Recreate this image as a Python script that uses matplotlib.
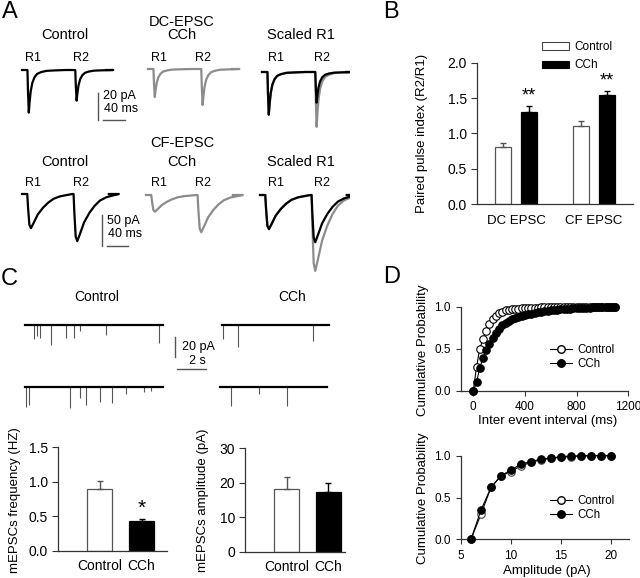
import numpy as np
import matplotlib
matplotlib.use('Agg')
import matplotlib.pyplot as plt
from matplotlib.patches import Patch
from matplotlib.lines import Line2D

plt.rcParams['font.family'] = ['Liberation Sans', 'DejaVu Sans']

# ---------------- DATA ----------------
# Panel A: EPSC waveform templates (ms after stimulus, fraction of peak)
dc_shape_t = [0, 1, 2.5, 4, 6, 9, 13, 18, 25, 35, 50, 70]
dc_shape_v = [0, -0.5, -1.0, -0.75, -0.5, -0.3, -0.17, -0.09, -0.05, -0.02, -0.01, 0]
cf_shape_t = [0, 1.5, 4, 7, 12, 20, 30, 40, 50, 62, 75, 86]
cf_shape_v = [0, -0.4, -0.9, -1.0, -0.85, -0.6, -0.4, -0.25, -0.14, -0.07, -0.03, 0]
stim_ms = [10, 98]                 # R1, R2 stimulus times
dc_ctrl_peaks = [32, 23]           # pA
dc_cch_peaks = [21, 27]
cf_ctrl_peaks = [55, 76]
cf_cch_peaks = [27, 60]
dc_dur, cf_dur = 155, 165

# Panel B: paired pulse index
ppi_groups = ['DC EPSC', 'CF EPSC']
ppi_ctrl = [0.80, 1.10]
ppi_ctrl_err = [0.07, 0.08]
ppi_cch = [1.30, 1.54]
ppi_cch_err = [0.09, 0.06]

# Panel C: mEPSC events (time s, amplitude pA)
ctrl1_t = [0.64, 0.85, 1.04, 1.79, 2.83, 3.38, 3.80, 5.57, 9.23]
ctrl1_a = [14, 11, 13, 20, 13, 13, 6, 10, 18]
ctrl2_t = [0.07, 0.30, 3.1, 3.8, 4.2, 5.2, 6.0, 7.0, 8.2, 8.7]
ctrl2_a = [20, 18, 21, 11, 18, 15, 16, 7, 5, 4]
cch1_t = [0.09, 1.08, 6.26]
cch1_a = [14, 22, 16]
cch2_t = [0.74, 2.69, 4.65]
cch2_a = [19, 7, 19]
ctrl_dur, cch_dur = 9.5, 7.4

freq_labels = ['Control', 'CCh']
freq_mean = [0.90, 0.44]
freq_err = [0.11, 0.02]
amp_mean = [18.1, 17.4]
amp_err = [3.5, 2.5]

# Panel D: cumulative probabilities
iei_ms = [0, 25, 50, 75, 100, 125, 150, 175, 200, 225, 250, 275, 300, 325, 350,
          375, 400, 425, 450, 475, 500, 525, 550, 575, 600, 625, 650, 675, 700,
          725, 750, 775, 800, 825, 850, 875, 900, 925, 950, 975, 1000, 1025,
          1050, 1075, 1100]
iei_ctrl = [0.00, 0.28, 0.50, 0.61, 0.71, 0.79, 0.85, 0.89, 0.92, 0.94, 0.955,
            0.965, 0.97, 0.975, 0.978, 0.98, 0.982, 0.984, 0.986, 0.988, 0.99,
            0.991, 0.992, 0.993, 0.994, 0.995, 0.996, 0.997, 0.997, 0.998,
            0.998, 0.999, 0.999, 1.0, 1.0, 1.0, 1.0, 1.0, 1.0, 1.0, 1.0, 1.0,
            1.0, 1.0, 1.0]
iei_cch = [0.00, 0.10, 0.27, 0.39, 0.48, 0.56, 0.63, 0.69, 0.74, 0.78, 0.81,
           0.83, 0.85, 0.865, 0.878, 0.89, 0.90, 0.91, 0.918, 0.925, 0.932,
           0.938, 0.944, 0.95, 0.955, 0.96, 0.964, 0.968, 0.971, 0.974, 0.977,
           0.98, 0.982, 0.984, 0.986, 0.988, 0.99, 0.992, 0.994, 0.995, 0.996,
           0.997, 0.998, 0.999, 1.0]
amp_pA = [6, 7, 8, 9, 10, 11, 12, 13, 14, 15, 16, 17, 18, 19, 20]
amp_ctrl = [0.0, 0.30, 0.62, 0.76, 0.81, 0.88, 0.92, 0.95, 0.97, 0.98, 0.99,
            0.995, 1.0, 1.0, 1.0]
amp_cch = [0.0, 0.35, 0.62, 0.76, 0.83, 0.90, 0.93, 0.96, 0.97, 0.99, 0.995,
           1.0, 1.0, 1.0, 1.0]

# ---------------- LAYOUT ----------------
W, H = 640, 578
fig = plt.figure(figsize=(6.4, 5.78), dpi=100)
GRAY = '#8c8c8c'
AX = '#333333'


def ax_px(x0, y0, x1, y1):
    return fig.add_axes([x0 / W, 1 - y1 / H, (x1 - x0) / W, (y1 - y0) / H])


def ftext(x, y, s, **kw):
    kw.setdefault('ha', 'center')
    kw.setdefault('va', 'center')
    fig.text(x / W, 1 - y / H, s, **kw)


def build_trace(peaks, shape_t, shape_v, dur):
    t = [0.0]
    v = [0.0]
    for s, p in zip(stim_ms, peaks):
        t += [s + x for x in shape_t]
        v += [p * y for y in shape_v]
    t.append(dur)
    v.append(0.0)
    return np.array(t, float), np.array(v, float)


def trace_row(y_top, y_bot, base, ms_px, pa_px):
    ax = ax_px(0, y_top, 350, y_bot)
    ax.set_xlim(0, 350 * ms_px)
    ax.set_ylim(-(y_bot - base) * pa_px, (base - y_top) * pa_px)
    ax.axis('off')
    return ax


# ---------- Panel letters ----------
ftext(2, 12, 'A', fontsize=17, ha='left')
ftext(383, 12, 'B', fontsize=17, ha='left')
ftext(1, 279, 'C', fontsize=17, ha='left')
ftext(383, 277, 'D', fontsize=17, ha='left')

# ---------- Panel A ----------
rows = [
    dict(y_top=50, y_bot=140, base=70, ms_px=1.84, pa_px=0.75, shape=(dc_shape_t, dc_shape_v),
         ctrl=dc_ctrl_peaks, cch=dc_cch_peaks, dur=dc_dur, name='DC-EPSC', ty=22, tty=35, ry=58,
         starts=(22, 148, 262), bases=(70, 69, 72), sb=(98, 120, 103.3, 20, 40, '20 pA', 96, 109)),
    dict(y_top=175, y_bot=275, base=194, ms_px=1.9, pa_px=1.61, shape=(cf_shape_t, cf_shape_v),
         ctrl=cf_ctrl_peaks, cch=cf_cch_peaks, dur=cf_dur, name='CF-EPSC', ty=143, tty=162, ry=183,
         starts=(22, 146, 260), bases=(194, 195, 195), sb=(102, 246, 107, 50, 40, '50 pA', 221.5, 234.5)),
]
for r in rows:
    ax = trace_row(r['y_top'], r['y_bot'], r['base'], r['ms_px'], r['pa_px'])
    st, sv = r['shape']
    tc, vc = build_trace(r['ctrl'], st, sv, r['dur'])
    tg, vg = build_trace(r['cch'], st, sv, r['dur'])
    scale = r['ctrl'][0] / r['cch'][0]

    def off(i):
        return r['starts'][i] * r['ms_px'], -(r['bases'][i] - r['base']) * r['pa_px']

    ox, oy = off(0)
    ax.plot(tc + ox, vc + oy, color='k', lw=1.6)
    ox, oy = off(1)
    ax.plot(tg + ox, vg + oy, color=GRAY, lw=1.6)
    ox, oy = off(2)
    ax.plot(tg + ox, vg * scale + oy, color=GRAY, lw=1.6)
    ax.plot(tc + ox, vc + oy, color='k', lw=1.6)
    # scale bars
    vx, vy, hx, pa, ms, lab, ly1, ly2 = r['sb']
    x0 = vx * r['ms_px']
    y0 = -(vy - r['base']) * r['pa_px']
    ax.plot([x0, x0], [y0, y0 + pa], color='#555555', lw=1.0)
    hx0 = hx * r['ms_px']
    ax.plot([hx0, hx0 + ms], [y0, y0], color='#555555', lw=1.0)
    ftext(vx + 5, ly1, lab, fontsize=9, ha='left')
    ftext(vx + 6, ly2, '40 ms', fontsize=9, ha='left')
    # titles
    ftext(65, r['tty'], 'Control', fontsize=10.5)
    ftext(182, r['ty'], r['name'], fontsize=10.5)
    ftext(182, r['tty'], 'CCh', fontsize=10.5)
    ftext(301, r['tty'], 'Scaled R1', fontsize=10.5)
    for xr1, xr2 in ((33, 81), (159.5, 203), (276, 322)):
        ftext(xr1, r['ry'], 'R1', fontsize=9)
        ftext(xr2, r['ry'], 'R2', fontsize=9)

# ---------- Panel B ----------
axB = ax_px(476.7, 62.7, 633, 204)
xg = np.arange(len(ppi_groups))
ekw = dict(lw=1.0, capsize=2.5, capthick=1.0)
axB.bar(xg - 0.17, ppi_ctrl, 0.205, color='white', edgecolor='#555555', lw=0.9, zorder=2)
axB.errorbar(xg - 0.17, ppi_ctrl, yerr=[[0, 0], ppi_ctrl_err], fmt='none', ecolor='#555555', **ekw)
axB.bar(xg + 0.17, ppi_cch, 0.205, color='black', edgecolor='black', lw=0.9, zorder=2)
axB.errorbar(xg + 0.17, ppi_cch, yerr=[[0, 0], ppi_cch_err], fmt='none', ecolor='black', **ekw)
for i in range(2):
    axB.text(xg[i] + 0.17, ppi_cch[i] + ppi_cch_err[i] + 0.02, '**', ha='center', va='bottom',
             fontsize=13)
axB.set_xlim(-0.504, 1.5)
axB.set_ylim(0, 2.0)
axB.set_yticks([0, 0.5, 1.0, 1.5, 2.0])
axB.set_yticklabels(['0.0', '0.5', '1.0', '1.5', '2.0'])
axB.set_xticks(xg)
axB.set_xticklabels(ppi_groups, fontsize=9.5)
axB.tick_params(axis='x', length=0, pad=8)
axB.tick_params(axis='y', length=4, width=0.8, labelsize=10, color=AX, pad=3)
for s in ('top', 'right'):
    axB.spines[s].set_visible(False)
for s in ('left', 'bottom'):
    axB.spines[s].set_color(AX)
    axB.spines[s].set_linewidth(0.9)
ftext(421.7, 133.5, 'Paired pulse index (R2/R1)', fontsize=9.5, rotation=90)
hB = [Patch(facecolor='white', edgecolor='#444444', lw=0.8),
      Patch(facecolor='black', edgecolor='black', lw=0.8)]
axB.legend(hB, ['Control', 'CCh'], loc='upper left', frameon=False, fontsize=8.5,
           bbox_to_anchor=(541.7 / W, 1 - 41 / H), bbox_transform=fig.transFigure,
           borderpad=0, borderaxespad=0, handlelength=2.3, handleheight=0.6,
           handletextpad=0.5, labelspacing=0.55)

# ---------- Panel C traces ----------
ftext(97, 297, 'Control', fontsize=10)
ftext(292, 297, 'CCh', fontsize=10)
s_px = 2.0 / 29.0
axC = ax_px(0, 310, 340, 420)
axC.set_xlim(0, 340 * s_px)
axC.set_ylim(-(420 - 325), 325 - 310)
axC.axis('off')
traces = [(25, 325, ctrl_dur, ctrl1_t, ctrl1_a), (25, 387, ctrl_dur, ctrl2_t, ctrl2_a),
          (222, 325, cch_dur, cch1_t, cch1_a), (220, 387, cch_dur, cch2_t, cch2_a)]
for xs, yb, dur, et, ea in traces:
    ox = xs * s_px
    oy = -(yb - 325)
    axC.vlines(np.array(et) + ox, oy - np.array(ea), oy, color='#555555', lw=0.8)
    axC.plot([ox, ox + dur], [oy, oy], color='k', lw=1.6)
axC.plot([175 * s_px] * 2, [-(357 - 325), -(357 - 325) + 20], color='#555555', lw=1.0)
axC.plot([177 * s_px, 177 * s_px + 2.0], [-(369 - 325)] * 2, color='#555555', lw=1.0)
ftext(182, 347, '20 pA', fontsize=9, ha='left')
ftext(197, 361, '2 s', fontsize=9)

# ---------- Panel C bars ----------


def style_bar_ax(ax):
    for s in ('top', 'right'):
        ax.spines[s].set_visible(False)
    for s in ('left', 'bottom'):
        ax.spines[s].set_color(AX)
        ax.spines[s].set_linewidth(0.9)
    ax.tick_params(axis='x', length=0, pad=6, labelsize=10)
    ax.tick_params(axis='y', length=4, width=0.8, labelsize=10, color=AX, pad=3)


xc = np.arange(len(freq_labels))
axF = ax_px(57.7, 447.3, 166.7, 551)
axF.bar(xc, freq_mean, 0.6, color=['white', 'black'], edgecolor=['#555555', 'black'], lw=0.9, zorder=2)
axF.errorbar(xc[0], freq_mean[0], yerr=[[0], [freq_err[0]]], fmt='none', ecolor='#555555', **ekw)
axF.errorbar(xc[1], freq_mean[1], yerr=[[0], [freq_err[1]]], fmt='none', ecolor='black', **ekw)
axF.text(xc[1], freq_mean[1] + freq_err[1] + 0.02, '*', ha='center', va='bottom', fontsize=15)
axF.set_xlim(-1.0, 1.6)
axF.set_ylim(0, 1.5)
axF.set_yticks([0, 0.5, 1.0, 1.5])
axF.set_yticklabels(['0.0', '0.5', '1.0', '1.5'])
axF.set_xticks(xc)
axF.set_xticklabels(freq_labels)
style_bar_ax(axF)
ftext(15, 500, 'mEPSCs frequency (HZ)', fontsize=9.5, rotation=90)

axAm = ax_px(245, 448.3, 345, 551.7)
axAm.bar(xc, amp_mean, 0.6, color=['white', 'black'], edgecolor=['#555555', 'black'], lw=0.9, zorder=2)
axAm.errorbar(xc[0], amp_mean[0], yerr=[[0], [amp_err[0]]], fmt='none', ecolor='#555555', **ekw)
axAm.errorbar(xc[1], amp_mean[1], yerr=[[0], [amp_err[1]]], fmt='none', ecolor='black', **ekw)
axAm.set_xlim(-1.0, 1.4)
axAm.set_ylim(0, 30)
axAm.set_yticks([0, 10, 20, 30])
axAm.set_xticks(xc)
axAm.set_xticklabels(freq_labels)
style_bar_ax(axAm)
ftext(203, 500, 'mEPSCs amplitude (pA)', fontsize=9.5, rotation=90)

# ---------- Panel D ----------


def style_cum_ax(ax):
    for s in ('top', 'right'):
        ax.spines[s].set_visible(False)
    for s in ('left', 'bottom'):
        ax.spines[s].set_color(AX)
        ax.spines[s].set_linewidth(0.9)
    ax.tick_params(length=3.5, width=0.8, labelsize=8.5, color=AX, pad=4)
    ax.set_yticks([0, 0.5, 1.0])
    ax.set_yticklabels(['0.0', '0.5', '1.0'])


mk = dict(marker='o', ms=5.4, mew=0.8, lw=0.8, clip_on=False)
axD1 = ax_px(461, 306.7, 628.3, 390.7)
axD1.plot(iei_ms, iei_ctrl, color='k', mfc='white', mec='k', zorder=3, **mk)
axD1.plot(iei_ms, iei_cch, color='k', mfc='black', mec='k', zorder=4, **mk)
axD1.set_xlim(-95, 1200)
axD1.set_ylim(0, 1.0)
axD1.set_xticks([0, 400, 800, 1200])
style_cum_ax(axD1)
ftext(548, 421, 'Inter event interval (ms)', fontsize=9.5)
ftext(423, 350, 'Cumulative Probability', fontsize=9.5, rotation=90)

axD2 = ax_px(461, 455.7, 629, 539.3)
axD2.plot(amp_pA, amp_ctrl, color='k', mfc='white', mec='#444444', zorder=3, **mk)
axD2.plot(amp_pA, amp_cch, color='k', mfc='black', mec='k', zorder=4, **mk)
axD2.set_xlim(5, 21.8)
axD2.set_ylim(0, 1.0)
axD2.set_xticks([5, 10, 15, 20])
style_cum_ax(axD2)
ftext(547, 571, 'Amplitude (pA)', fontsize=9.5)
ftext(423, 498, 'Cumulative Probability', fontsize=9.5, rotation=90)

hD = [Line2D([], [], color='k', lw=0.8, marker='o', ms=5.4, mfc='white', mec='k'),
      Line2D([], [], color='k', lw=0.8, marker='o', ms=5.4, mfc='black', mec='k')]
for ax, ytop in ((axD1, 344), (axD2, 495)):
    ax.legend(hD, ['Control', 'CCh'], loc='upper left', frameon=False, fontsize=8.3,
              bbox_to_anchor=(550 / W, 1 - ytop / H), bbox_transform=fig.transFigure,
              borderpad=0, borderaxespad=0, handlelength=1.95, handletextpad=0.4,
              labelspacing=0.2)

fig.savefig('out.png', dpi=100)
